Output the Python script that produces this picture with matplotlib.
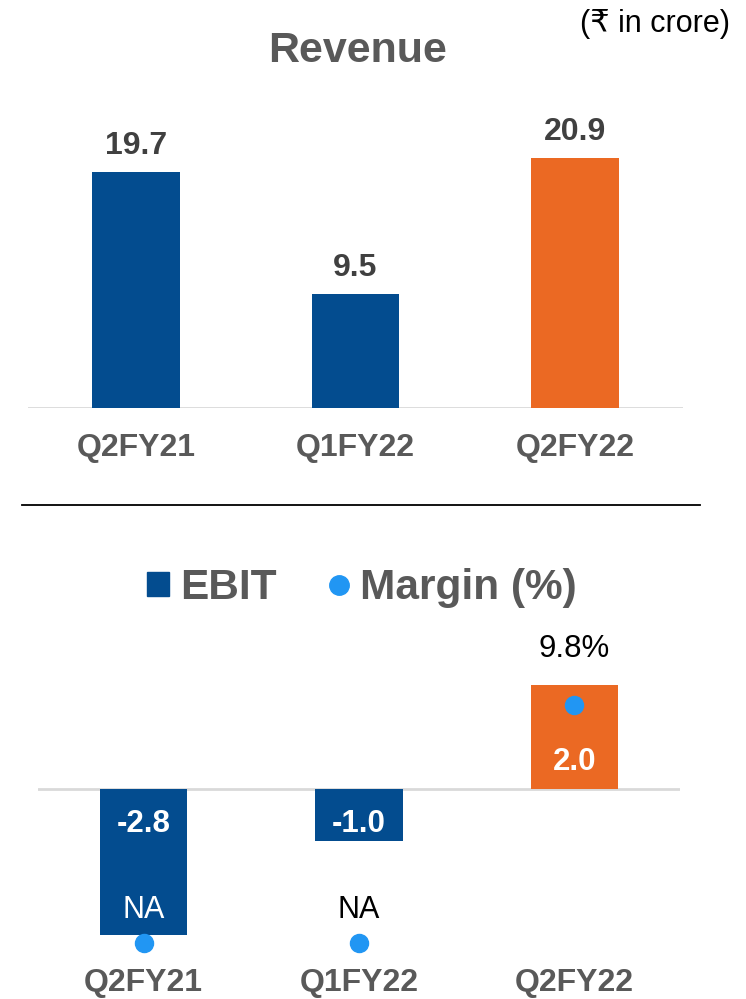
import numpy as np
import matplotlib
matplotlib.use("Agg")
import matplotlib.pyplot as plt
from matplotlib.lines import Line2D
from matplotlib.patches import Patch

plt.rcParams['font.family'] = ['Liberation Sans', 'DejaVu Sans']

# ---- data ----
categories = ['Q2FY21', 'Q1FY22', 'Q2FY22']
revenue = [19.7, 9.5, 20.9]
ebit = [-2.8, -1.0, 2.0]
margin = [np.nan, np.nan, 9.8]   # NA for first two

BLUE = '#034C8F'
ORANGE = '#EB6923'
DOT = '#2196F3'
GRAY = '#595959'
DARK = '#404040'
bar_colors = [BLUE, BLUE, ORANGE]

W, H = 746, 999
fig = plt.figure(figsize=(W / 100, H / 100), dpi=100)


def fy(px):
    return 1 - px / H


x = np.arange(len(categories))

# ---- top: Revenue ----
ax = fig.add_axes([28 / W, fy(408), 655 / W, 308 / H])
ax.bar(x, revenue, width=0.40, color=bar_colors, zorder=2)
ax.set_xlim(-0.492, 2.492)
ax.set_ylim(0, 308 / 11.96)
ax.axhline(0, color='#D9D9D9', lw=2, zorder=1)
for s in ax.spines.values():
    s.set_visible(False)
ax.set_yticks([])
ax.set_xticks(x, categories)
ax.tick_params(axis='x', length=0, pad=18, labelsize=23, labelcolor=GRAY)
for lb in ax.get_xticklabels():
    lb.set_fontweight('bold')
for i, v in enumerate(revenue):
    ax.annotate(f'{v:.1f}', (i, v), xytext=(0, 13), textcoords='offset points',
                ha='center', va='baseline', fontsize=23, fontweight='bold', color=DARK)

fig.text(357.5 / W, fy(62), 'Revenue', ha='center', va='baseline',
         fontsize=31, fontweight='bold', color=GRAY)
fig.text(730 / W, fy(32), '(₹ in crore)', ha='right', va='baseline',
         fontsize=22, color='black')

# separator
fig.add_artist(Line2D([22 / W, 700 / W], [fy(505), fy(505)], color='black', lw=1.3))

# ---- bottom: EBIT & Margin ----
bx = fig.add_axes([38 / W, fy(960), 642 / W, 310 / H])
bx.bar(x, ebit, width=0.405, color=bar_colors, zorder=2)
bx.set_xlim(-0.49, 2.49)
bx.set_ylim(-171 / 52, 139 / 52)
bx.axhline(0, color='#D9D9D9', lw=2, zorder=1)
for s in bx.spines.values():
    s.set_visible(False)
bx.set_yticks([])
bx.set_xticks(x, categories)
bx.tick_params(axis='x', length=0, pad=6, labelsize=23, labelcolor=GRAY)
for lb in bx.get_xticklabels():
    lb.set_fontweight('bold')
for i, v in enumerate(ebit):
    off = -31 if v < 0 else 13.7
    bx.annotate(f'{v:.1f}', (i, 0), xytext=(0, off), textcoords='offset points',
                ha='center', va='baseline', fontsize=22.5, fontweight='bold', color='white',
                zorder=5)

b2 = fig.add_axes([38 / W, fy(960), 642 / W, 310 / H], sharex=bx)
b2.set_facecolor('none')
b2.axis('off')
b2.set_ylim(-17 / 24.3, 293 / 24.3)
mpos = np.nan_to_num(np.array(margin, dtype=float))
b2.plot(x, mpos, ls='none', marker='o', ms=13, color=DOT, zorder=4)
na_colors = ['white', 'black', 'black']
for i, v in enumerate(margin):
    if np.isnan(v):
        b2.annotate('NA', (i, mpos[i]), xytext=(0, 18), textcoords='offset points',
                    ha='center', va='baseline', fontsize=22, color=na_colors[i])
    else:
        b2.annotate(f'{v:.1f}%', (i, v), xytext=(0, 34.7), textcoords='offset points',
                    ha='center', va='baseline', fontsize=22.5, color='black')

handles = [Patch(color=BLUE),
           Line2D([], [], ls='none', marker='o', ms=14, color=DOT)]
leg = bx.legend(handles, ['EBIT', 'Margin (%)'], loc='center',
                bbox_to_anchor=(362 / W, fy(588)), bbox_transform=fig.transFigure,
                ncol=2, frameon=False, prop={'size': 30.5, 'weight': 'bold'},
                labelcolor=GRAY, handlelength=0.53, handleheight=0.53,
                handletextpad=0.25, columnspacing=1.2, borderpad=0)

fig.savefig('out.png', dpi=100)
